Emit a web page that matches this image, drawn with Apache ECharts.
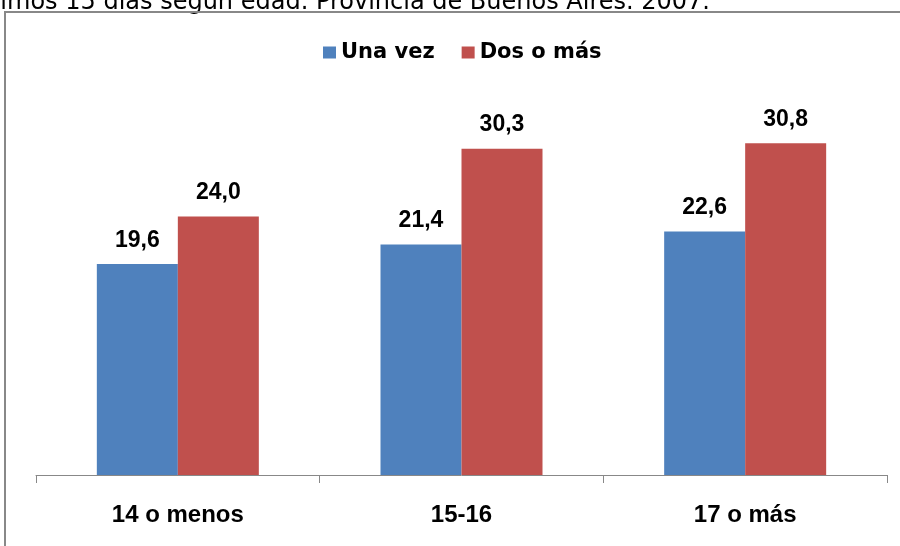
<!DOCTYPE html>
<html>
<head>
<meta charset="utf-8">
<script src="https://cdn.jsdelivr.net/npm/echarts@6/dist/echarts.min.js"></script>
<style>
  html, body { margin: 0; padding: 0; background: #fff; }
  #chart { width: 900px; height: 546px; }
</style>
</head>
<body>
<div id="chart"></div>
<script>
// datos del grafico
var categorias = ['14 o menos', '15-16', '17 o más'];
var unaVez = [19.6, 21.4, 22.6];
var dosOMas = [24.0, 30.3, 30.8];
var series_nombres = ['Una vez', 'Dos o más'];
var titulo = 'en los últimos 15 días según edad. Provincia de Buenos Aires. 2007.';

var chart = echarts.init(document.getElementById('chart'));

var fuenteNum = {
    show: true,
    position: 'top',
    distance: 12,
    color: '#000',
    fontFamily: 'Liberation Sans',
    fontWeight: 'bold',
    fontSize: 23,
    formatter: function (p) {
        return p.value.toFixed(1).replace('.', ',');
    }
};

var option = {
    backgroundColor: '#fff',
    animation: false,
    graphic: [
        {
            type: 'text',
            right: 190,
            top: -9,
            style: {
                text: titulo,
                fill: '#000',
                font: '24px "DejaVu Sans"'
            }
        },
        {
            type: 'rect',
            shape: { x: 5, y: 12, width: 910, height: 560 },
            style: { fill: 'none', stroke: '#888', lineWidth: 2 }
        }
    ],
    legend: {
        data: series_nombres,
        left: 323,
        top: 42,
        padding: 0,
        itemWidth: 13,
        itemHeight: 12,
        itemGap: 27,
        icon: 'rect',
        textStyle: {
            color: '#000',
            fontFamily: 'DejaVu Sans',
            fontWeight: 'bold',
            fontSize: 21
        }
    },
    grid: { left: 36, right: 13, top: 98, bottom: 71 },
    xAxis: {
        type: 'category',
        data: categorias,
        axisLine: { lineStyle: { color: '#888', width: 1 } },
        axisTick: { show: true, length: 8, lineStyle: { color: '#888' } },
        axisLabel: {
            margin: 28,
            color: '#000',
            fontFamily: 'Liberation Sans',
            fontWeight: 'bold',
            fontSize: 24
        }
    },
    yAxis: {
        type: 'value',
        min: 0,
        max: 35,
        show: false,
        splitLine: { show: false }
    },
    series: [
        {
            name: series_nombres[0],
            type: 'bar',
            data: unaVez,
            barWidth: 81,
            barGap: '0%',
            itemStyle: { color: '#4F81BD' },
            label: fuenteNum
        },
        {
            name: series_nombres[1],
            type: 'bar',
            data: dosOMas,
            barWidth: 81,
            barGap: '0%',
            itemStyle: { color: '#C0504D' },
            label: fuenteNum
        }
    ]
};

chart.setOption(option);
</script>
</body>
</html>
